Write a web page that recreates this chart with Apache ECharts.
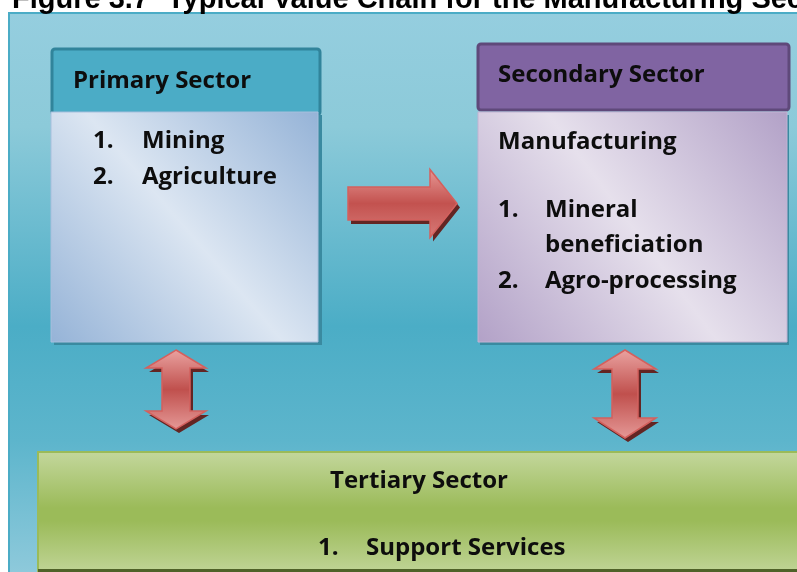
<!DOCTYPE html>
<html>
<head>
    <meta charset="utf-8">
    <title>Typical Value Chain</title>
    <script src="https://cdn.jsdelivr.net/npm/echarts@6/dist/echarts.min.js"></script>
    <style>
        html, body { margin: 0; padding: 0; background: #fff; }
    </style>
</head>
<body>
    <div id="main" style="width: 797px;height:572px;"></div>
    <script type="text/javascript">
        var myChart = echarts.init(document.getElementById('main'));

        // diagram content
        var figureLabel = 'Figure 3.7';
        var figureTitle = 'Typical Value Chain for the Manufacturing Sector';
        var sectorNames = ['Primary Sector', 'Secondary Sector', 'Tertiary Sector'];
        var primaryItems = ['Mining', 'Agriculture'];
        var secondaryHeading = 'Manufacturing';
        var secondaryItems = [['Mineral', 'beneficiation'], ['Agro-processing']];
        var tertiaryItems = ['Support Services'];

        var FONT = '"Open Sans"';
        var FS = 24;

        // diagonal gradient: coloured corners top-right & bottom-left, light across the middle
        function diag(edge, light) {
            return new echarts.graphic.LinearGradient(1, 0, 0, 1, [
                { offset: 0, color: edge },
                { offset: 0.5, color: light },
                { offset: 1, color: edge }
            ]);
        }
        function vgrad(stops) {
            return new echarts.graphic.LinearGradient(0, 0, 0, 1, stops.map(function (s) {
                return { offset: s[0], color: s[1] };
            }));
        }
        function txt(str, x, y, align) {
            return {
                type: 'text', x: x, y: y, z: 20,
                style: {
                    text: str, fill: '#0d0d0d', font: 'bold ' + FS + 'px ' + FONT,
                    align: align || 'left', verticalAlign: 'middle'
                }
            };
        }

        // arrow outlines
        function hArrow(x0, xh, xt, cy, hb, hh) {
            return [[x0, cy - hb], [xh, cy - hb], [xh, cy - hh], [xt, cy], [xh, cy + hh], [xh, cy + hb], [x0, cy + hb]];
        }
        function vArrow(cx, yt, yh1, yh2, yb, hw, sw) {
            return [[cx, yt], [cx + hw, yh1], [cx + sw, yh1], [cx + sw, yh2], [cx + hw, yh2], [cx, yb],
                [cx - hw, yh2], [cx - sw, yh2], [cx - sw, yh1], [cx - hw, yh1]];
        }
        function arrow(points, grad) {
            var shadowPts = points.map(function (p) { return [p[0] + 3, p[1] + 4]; });
            return [
                { type: 'polygon', z: 5, shape: { points: shadowPts }, style: { fill: '#632523' } },
                { type: 'polygon', z: 6, shape: { points: points },
                  style: { fill: grad, stroke: '#d4605d', lineWidth: 1.5 } }
            ];
        }
        var redV = vgrad([[0, '#eaa3a1'], [0.5, '#c0504d'], [1, '#e59997']]);
        var redH = vgrad([[0, '#e79895'], [0.5, '#c3524f'], [1, '#d87b78']]);

        var titleFont = 'bold 29px "Liberation Sans"';
        var elements = [
            // title (cut off at top/right as in source)
            { type: 'text', x: 12, y: 14, z: 30,
              style: { text: figureLabel, fill: '#000', font: titleFont, verticalAlign: 'bottom' } },
            { type: 'text', x: 167, y: 14, z: 30,
              style: { text: figureTitle, fill: '#000', font: titleFont, verticalAlign: 'bottom' } },
            // background panel
            { type: 'rect', z: 1, shape: { x: 9, y: 13, width: 800, height: 570 },
              style: { fill: vgrad([[0, '#95cedf'], [0.2, '#8ccad9'], [0.55, '#4badc6'], [0.75, '#5db5cc'], [1, '#92cbdc']]),
                       stroke: '#4bacc6', lineWidth: 2 } },

            // primary sector
            { type: 'rect', z: 3, shape: { x: 52, y: 49, width: 268, height: 66, r: 3 },
              style: { fill: '#4bacc6', stroke: '#31849b', lineWidth: 3 } },
            { type: 'rect', z: 3, shape: { x: 54, y: 115, width: 268, height: 230 },
              style: { fill: '#3a8aa0' } },
            { type: 'rect', z: 4, shape: { x: 51, y: 112, width: 267, height: 230 },
              style: { fill: diag('#95b3d7', '#dce6f2'), stroke: '#a7bfdd', lineWidth: 1 } },
            txt(sectorNames[0], 73, 81),

            // secondary sector
            { type: 'rect', z: 3, shape: { x: 478, y: 44, width: 311, height: 66, r: 3 },
              style: { fill: '#8064a2', stroke: '#5f497a', lineWidth: 3 } },
            { type: 'rect', z: 3, shape: { x: 480, y: 115, width: 309, height: 230 },
              style: { fill: '#3a8aa0' } },
            { type: 'rect', z: 4, shape: { x: 478, y: 112, width: 309, height: 230 },
              style: { fill: diag('#b2a1c7', '#e6e0ec'), stroke: '#c1b3d3', lineWidth: 1 } },
            txt(sectorNames[1], 498, 75),
            txt(secondaryHeading, 498, 142),

            // tertiary sector
            { type: 'rect', z: 3, shape: { x: 38, y: 452, width: 775, height: 125 },
              style: { fill: vgrad([[0, '#c4d79d'], [0.45, '#9bbb59'], [0.55, '#9bbb59'], [1, '#c4d79d']]),
                       stroke: '#9bbb59', lineWidth: 2 } },
            { type: 'rect', z: 4, shape: { x: 38, y: 569, width: 775, height: 3 }, style: { fill: '#4f6228' } },
            txt(sectorNames[2], 419, 481, 'center')
        ];

        primaryItems.forEach(function (item, i) {
            elements.push(txt((i + 1) + '.', 93, 141 + i * 36));
            elements.push(txt(item, 142, 141 + i * 36));
        });
        var rowY = 210;
        secondaryItems.forEach(function (lines, i) {
            elements.push(txt((i + 1) + '.', 498, rowY));
            lines.forEach(function (line) {
                elements.push(txt(line, 545, rowY));
                rowY += 35.5;
            });
        });
        tertiaryItems.forEach(function (item, i) {
            elements.push(txt((i + 1) + '.', 318, 548 + i * 36));
            elements.push(txt(item, 366, 548 + i * 36));
        });

        elements = elements
            .concat(arrow(hArrow(348, 430, 457, 203.5, 16.5, 34), redH))
            .concat(arrow(vArrow(176, 350, 368, 411, 429, 30, 14), redV))
            .concat(arrow(vArrow(625, 350, 369, 418, 438, 31, 13), redV));

        var option = {
            backgroundColor: '#ffffff',
            animation: false,
            graphic: { elements: elements }
        };
        myChart.setOption(option);
    </script>
</body>
</html>
